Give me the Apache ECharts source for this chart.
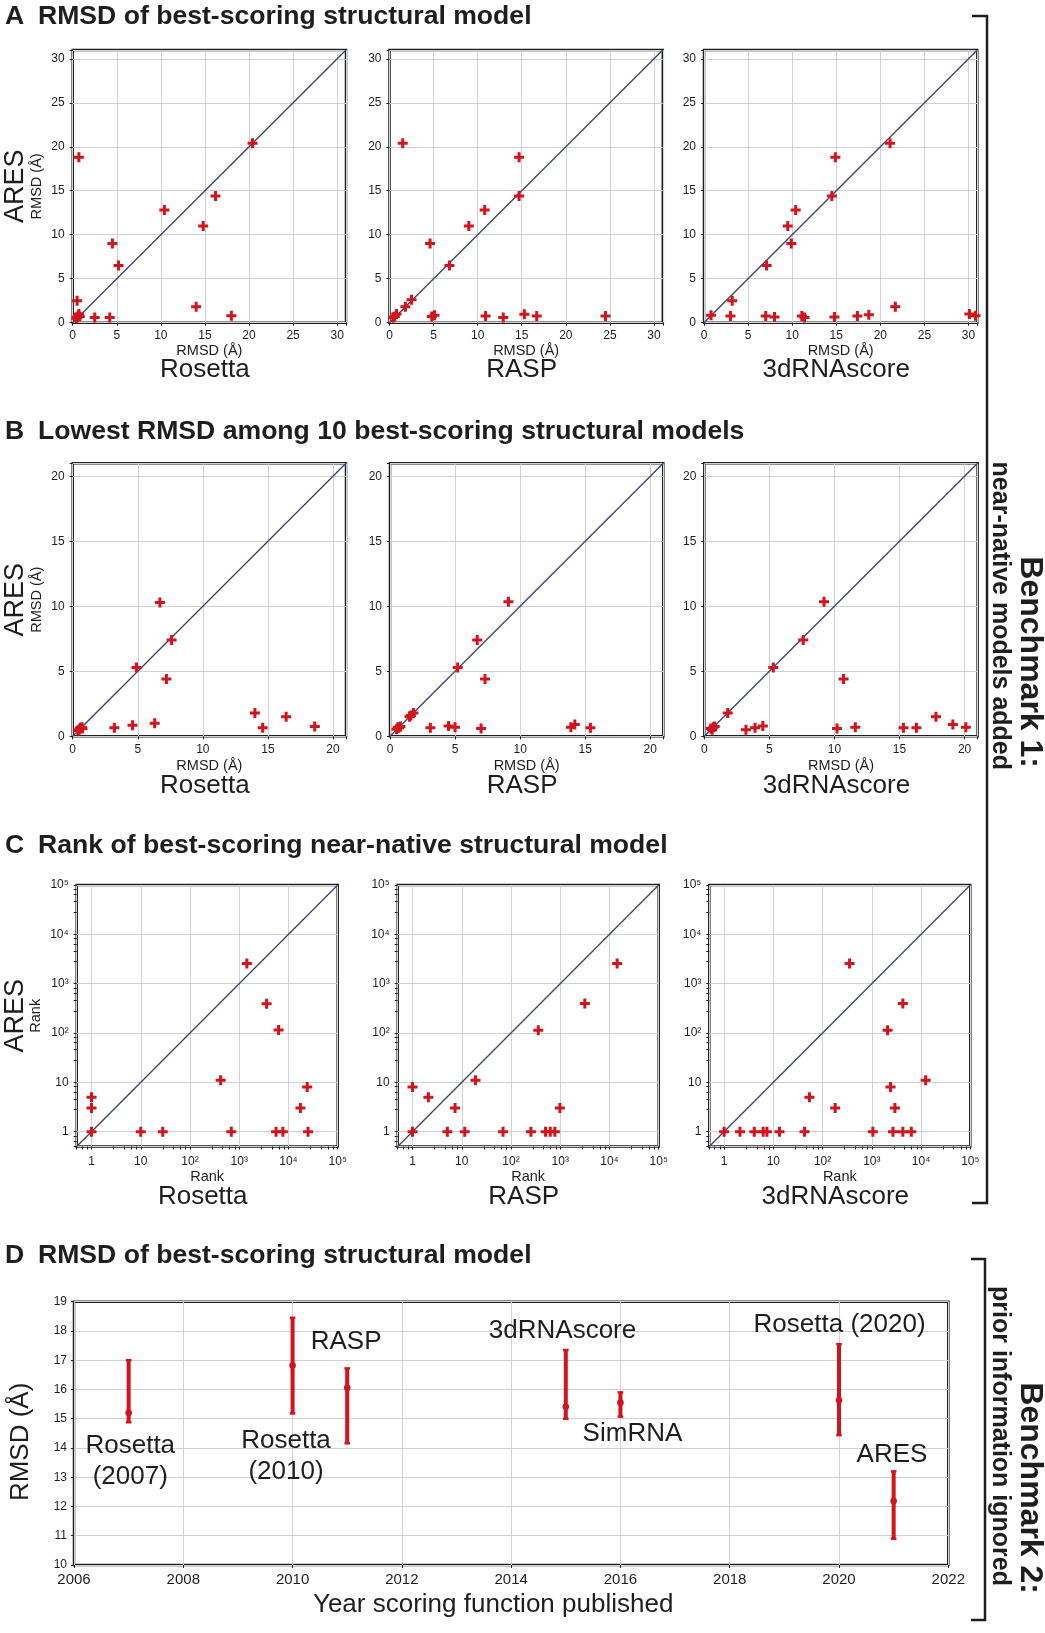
<!DOCTYPE html>
<html><head><meta charset="utf-8">
<script src="https://cdn.jsdelivr.net/npm/echarts@6/dist/echarts.min.js"></script>
<style>html,body{margin:0;padding:0;background:#fff}#c{width:1045px;height:1633px}</style>
</head><body><div id="c"></div>
<script>
// ---------- DATA ----------
const methods = ['Rosetta', 'RASP', '3dRNAscore'];

// Panel A: RMSD of best-scoring structural model (x = other method, y = ARES)
const aRosettaX = [0.7, 20.4, 16.2, 10.4, 14.8, 4.5, 5.2, 0.5, 14.0, 18.0, 2.5, 4.2, 0.4, 0.5, 0.6, 0.7, 0.8];
const aRosettaY = [18.8, 20.4, 14.4, 12.8, 11.0, 9.0, 6.5, 2.5, 1.8, 0.8, 0.6, 0.6, 0.5, 0.6, 0.8, 1.0, 0.7];
const aRaspX = [1.5, 14.7, 14.7, 10.8, 9.0, 4.6, 6.8, 2.5, 1.8, 0.4, 0.6, 0.8, 4.8, 5.1, 10.9, 12.9, 15.3, 16.7, 24.5];
const aRaspY = [20.4, 18.8, 14.4, 12.8, 11.0, 9.0, 6.5, 2.6, 1.8, 0.6, 0.7, 1.0, 0.7, 0.85, 0.75, 0.6, 0.95, 0.75, 0.75];
const a3dX = [0.8, 3.2, 3.0, 7.1, 7.0, 8.0, 9.5, 9.9, 10.4, 11.1, 11.4, 14.5, 14.9, 14.8, 17.4, 18.7, 21.1, 21.7, 30.1, 30.8];
const a3dY = [0.85, 2.5, 0.75, 6.5, 0.75, 0.65, 11.0, 9.0, 12.8, 0.75, 0.6, 14.4, 18.8, 0.65, 0.75, 0.9, 20.4, 1.8, 1.0, 0.8];

// Panel B: lowest RMSD among 10 best-scoring structural models
const bRosettaX = [6.7, 7.6, 4.9, 7.2, 14.0, 16.4, 6.3, 4.6, 3.2, 14.6, 18.6, 0.4, 0.5, 0.55, 0.6, 0.7, 0.75];
const bRosettaY = [10.3, 7.4, 5.3, 4.4, 1.8, 1.5, 1.0, 0.85, 0.65, 0.65, 0.75, 0.45, 0.5, 0.6, 0.65, 0.7, 0.6];
const bRaspX = [9.1, 6.7, 5.2, 7.3, 1.8, 1.5, 1.6, 3.1, 4.5, 5.0, 7.0, 13.9, 14.2, 15.4, 0.5, 0.6, 0.7, 0.8];
const bRaspY = [10.35, 7.4, 5.3, 4.4, 1.8, 1.5, 1.6, 0.65, 0.8, 0.7, 0.6, 0.7, 0.9, 0.65, 0.55, 0.7, 0.65, 0.75];
const b3dX = [9.2, 7.6, 5.3, 10.7, 1.8, 3.2, 3.9, 4.5, 10.2, 11.6, 15.3, 16.3, 17.8, 19.1, 20.1, 0.5, 0.6, 0.7, 0.8];
const b3dY = [10.35, 7.4, 5.3, 4.4, 1.8, 0.5, 0.65, 0.8, 0.6, 0.7, 0.65, 0.65, 1.5, 0.9, 0.7, 0.6, 0.5, 0.7, 0.75];

// Panel C: rank of best-scoring near-native structural model
const cRosettaX = [1, 1, 1, 10, 28, 420, 690, 1430, 3600, 6300, 5600, 7700, 17500, 24000, 25000];
const cRosettaY = [5, 3, 1, 1, 1, 11, 1, 2550, 390, 115, 1, 1, 3, 8, 1];
const cRaspX = [1, 1, 2.1, 7.3, 5.1, 11.5, 19, 69, 254, 358, 504, 627, 779, 985, 3160, 14300];
const cRaspY = [8, 1, 5, 3, 1, 1, 11, 1, 1, 114, 1, 1, 1, 3, 397, 2550];
const c3dX = [1, 2.1, 4.1, 6.2, 7.4, 13.3, 43, 54, 180, 353, 1050, 2090, 2400, 2940, 2690, 4270, 4270, 6330, 12400];
const c3dY = [1, 1, 1, 1, 1, 1, 1, 5, 3, 2550, 1, 114, 8, 3, 1, 397, 1, 1, 11];

// Axis ranges
const rangeA = [0, 31], ticksA = 5;
const rangeB = [0, 21], ticksB = 5;
const rangeC = [0.5, 100000];

// Panel D: RMSD of best-scoring structural model vs year
const dNames = ['Rosetta\n(2007)', 'Rosetta\n(2010)', 'RASP', '3dRNAscore', 'SimRNA', 'Rosetta (2020)', 'ARES'];
const dYears = [2007, 2010, 2011, 2015, 2016, 2020, 2021];
const dMid = [15.2, 16.82, 16.06, 15.41, 15.55, 15.63, 12.19];
const dLow = [14.88, 15.18, 14.16, 15.0, 15.07, 14.44, 10.9];
const dHigh = [17.0, 18.45, 16.72, 17.35, 15.9, 17.55, 13.2];
const dLabelX = [2007.03, 2009.88, 2010.98, 2014.94, 2016.22, 2020.01, 2020.97];
const dLabelY = [13.54, 13.72, 17.63, 18.0, 14.5, 18.22, 13.78];
const dXRange = [2006, 2022], dXStep = 2;
const dYRange = [10, 19], dYStep = 1;

// ---------- STYLE / LAYOUT ----------
const FONT = "'Liberation Sans', Arial, Helvetica, sans-serif";
const RED = '#d2141c';
const NAVY = '#3c3f72';
const INK = '#1e1e1e';
const GRIDC = '#d2d2d6';
const PLUS = 'path://M3.5,0H6.5V3.5H10V6.5H6.5V10H3.5V6.5H0V3.5H3.5Z';
const SUP = {2: '²', 3: '³', 4: '⁴', 5: '⁵'};

const panels = [
  {row: 'A', col: 0, xs: aRosettaX, ys: aRosettaY},
  {row: 'A', col: 1, xs: aRaspX, ys: aRaspY},
  {row: 'A', col: 2, xs: a3dX, ys: a3dY},
  {row: 'B', col: 0, xs: bRosettaX, ys: bRosettaY},
  {row: 'B', col: 1, xs: bRaspX, ys: bRaspY},
  {row: 'B', col: 2, xs: b3dX, ys: b3dY},
  {row: 'C', col: 0, xs: cRosettaX, ys: cRosettaY},
  {row: 'C', col: 1, xs: cRaspX, ys: cRaspY},
  {row: 'C', col: 2, xs: c3dX, ys: c3dY}
];
const layout = {
  A: {top: 50, height: 272.7, lefts: [72.7, 389.5, 704], width: 273.3, xGap: 21, yGap: 28.5, unit: 'RMSD (Å)'},
  B: {top: 463.3, height: 273, lefts: [72.7, 390, 704.3], width: 273.3, xGap: 23, yGap: 28.5, unit: 'RMSD (Å)'},
  C: {top: 885, height: 261.5, lefts: [76.7, 397.7, 709.3], width: 261, xGap: 23, yGap: 33.5, unit: 'Rank'}
};

function powLabel(v) {
  const l = Math.log10(v), e = Math.round(l);
  if (Math.abs(l - e) > 1e-6) return '';
  if (e === 0) return '1';
  if (e === 1) return '10';
  return '10' + (SUP[e] || '');
}
function stepLabel(step) {
  return function (v) { return (Math.abs(v / step - Math.round(v / step)) < 1e-6) ? String(v) : ''; };
}

const grids = [], xAxes = [], yAxes = [], series = [];
panels.forEach((p, i) => {
  const L = layout[p.row];
  grids.push({left: L.lefts[p.col], top: L.top, width: L.width, height: L.height,
    show: true, borderColor: INK, borderWidth: 2.5, backgroundColor: 'transparent', containLabel: false});
  const isLog = p.row === 'C';
  const rng = p.row === 'A' ? rangeA : p.row === 'B' ? rangeB : rangeC;
  const step = p.row === 'A' ? ticksA : ticksB;
  function makeAxis(isX) {
    const ax = {
      gridIndex: i, min: rng[0], max: rng[1],
      axisLine: {show: false},
      axisTick: {show: true, length: 3, lineStyle: {color: INK, width: 1}},
      splitLine: {show: true, lineStyle: {color: GRIDC, width: 1}},
      axisLabel: {fontFamily: FONT, fontSize: 12, color: INK, margin: isX ? (isLog ? 9 : 7) : 8,
        formatter: isLog ? powLabel : stepLabel(step), showMinLabel: true, showMaxLabel: true}
    };
    if (isLog) {
      Object.assign(ax, {type: 'log', logBase: 10,
        minorTick: {show: true, splitNumber: 5, length: 3, lineStyle: {color: INK}}});
    } else {
      Object.assign(ax, {type: 'value', interval: step});
    }
    return ax;
  }
  const xa = makeAxis(true);
  const ya = makeAxis(false);
  xa.name = '{n|' + L.unit + '}\n{c|' + methods[p.col] + '}';
  xa.nameLocation = 'middle';
  xa.nameGap = L.xGap;
  xa.nameTextStyle = {fontFamily: FONT, color: INK, rich: {
    n: {fontFamily: FONT, fontSize: 14.5, lineHeight: 14, color: INK},
    c: {fontFamily: FONT, fontSize: 26, lineHeight: p.row === 'C' ? 26 : 25, color: INK, padding: [0, 9, 0, 0]}}};
  if (p.col === 0) {
    ya.name = '{c|ARES}\n{n|' + L.unit + '}';
    ya.nameLocation = 'middle';
    ya.nameGap = L.yGap;
    ya.nameTextStyle = {fontFamily: FONT, color: INK, rich: {
      n: {fontFamily: FONT, fontSize: 14.5, lineHeight: 14, color: INK},
      c: {fontFamily: FONT, fontSize: 27, lineHeight: p.row === 'C' ? 27 : 30, color: INK}}};
  }
  xAxes.push(xa); yAxes.push(ya);
  series.push({type: 'line', xAxisIndex: i, yAxisIndex: i, data: [[rng[0], rng[0]], [rng[1], rng[1]]],
    symbol: 'none', silent: true, lineStyle: {color: NAVY, width: 1.3}, z: 2});
  series.push({type: 'scatter', xAxisIndex: i, yAxisIndex: i, data: p.xs.map((x, k) => [x, p.ys[k]]),
    symbol: PLUS, symbolSize: 10, itemStyle: {color: RED, opacity: 1}, z: 3, silent: true});
});

// Panel D
const di = panels.length;
grids.push({left: 70, top: 1301.7, width: 878.3, height: 263.3, show: true, borderColor: INK, borderWidth: 2.5, containLabel: false});
xAxes.push({gridIndex: di, type: 'value', min: dXRange[0], max: dXRange[1], interval: dXStep,
  axisLine: {show: false}, axisTick: {show: true, length: 3, lineStyle: {color: INK}},
  splitLine: {show: true, lineStyle: {color: GRIDC}},
  axisLabel: {fontFamily: FONT, fontSize: 15, color: INK, margin: 7, formatter: v => String(v)},
  name: 'Year scoring function published', nameLocation: 'middle', nameGap: 27,
  nameTextStyle: {fontFamily: FONT, fontSize: 26, color: INK, padding: [0, 36, 0, 0]}});
yAxes.push({gridIndex: di, type: 'value', min: dYRange[0], max: dYRange[1], interval: dYStep,
  axisLine: {show: false}, axisTick: {show: true, length: 3, lineStyle: {color: INK}},
  splitLine: {show: true, lineStyle: {color: GRIDC}},
  axisLabel: {fontFamily: FONT, fontSize: 12, color: INK, margin: 7, formatter: v => String(v)},
  name: 'RMSD (Å)', nameLocation: 'middle', nameGap: 40,
  nameTextStyle: {fontFamily: FONT, fontSize: 26, lineHeight: 26, color: INK, padding: [0, 17, 0, 0]}});
series.push({type: 'custom', xAxisIndex: di, yAxisIndex: di,
  data: dYears.map((y, i) => [y, dLow[i], dHigh[i], dMid[i]]),
  encode: {x: 0, y: [1, 2, 3]}, silent: true, z: 3,
  renderItem: function (params, api) {
    const x = api.value(0);
    const lo = api.coord([x, api.value(1)]);
    const hi = api.coord([x, api.value(2)]);
    const mid = api.coord([x, api.value(3)]);
    const cw = 2.8;
    return {type: 'group', children: [
      {type: 'line', shape: {x1: lo[0], y1: lo[1], x2: hi[0], y2: hi[1]}, style: {stroke: RED, lineWidth: 4}},
      {type: 'line', shape: {x1: lo[0] - cw, y1: lo[1], x2: lo[0] + cw, y2: lo[1]}, style: {stroke: RED, lineWidth: 2.5}},
      {type: 'line', shape: {x1: hi[0] - cw, y1: hi[1], x2: hi[0] + cw, y2: hi[1]}, style: {stroke: RED, lineWidth: 2.5}},
      {type: 'circle', shape: {cx: mid[0], cy: mid[1], r: 3.3}, style: {fill: RED}}
    ]};
  }});
series.push({type: 'scatter', xAxisIndex: di, yAxisIndex: di, symbolSize: 0, silent: true, z: 4,
  itemStyle: {opacity: 1, color: INK},
  data: dNames.map((n, i) => ({name: n, value: [dLabelX[i], dLabelY[i]]})),
  label: {show: true, position: 'inside', formatter: p => p.name, fontFamily: FONT, fontSize: 26,
    lineHeight: 31, color: INK, opacity: 1, textBorderWidth: 0}});

// Titles and brackets
function title(letter, text, y) {
  return [
    {type: 'text', x: 5, y: y, style: {text: letter, font: 'bold 26.6px ' + FONT, fill: INK, textVerticalAlign: 'middle', verticalAlign: 'middle'}},
    {type: 'text', x: 38, y: y, style: {text: text, font: 'bold 26.6px ' + FONT, fill: INK, textVerticalAlign: 'middle', verticalAlign: 'middle'}}
  ];
}
function vtext(text, x, yEnd, size) {
  return {type: 'text', x: x, y: yEnd, rotation: -Math.PI / 2,
    style: {text: text, font: 'bold ' + size + 'px ' + FONT, fill: INK,
      textAlign: 'right', align: 'right', textVerticalAlign: 'middle', verticalAlign: 'middle'}};
}
const graphic = [].concat(
  title('A', 'RMSD of best-scoring structural model', 17),
  title('B', 'Lowest RMSD among 10 best-scoring structural models', 432),
  title('C', 'Rank of best-scoring near-native structural model', 846),
  title('D', 'RMSD of best-scoring structural model', 1256),
  [
    {type: 'polyline', shape: {points: [[972, 16], [987, 16], [987, 1203], [972, 1203]]}, style: {stroke: INK, lineWidth: 2.5, fill: null}},
    {type: 'polyline', shape: {points: [[971, 1259], [985, 1259], [985, 1620], [971, 1620]]}, style: {stroke: INK, lineWidth: 2.5, fill: null}},
    vtext('Benchmark 1:', 1030, 768, 32),
    vtext('near-native models added', 1000, 770, 25),
    vtext('Benchmark 2:', 1030, 1594, 32),
    vtext('prior information ignored', 1000, 1586, 25)
  ]
);

const chart = echarts.init(document.getElementById('c'), null, {renderer: 'canvas'});
chart.setOption({
  animation: false,
  backgroundColor: '#ffffff',
  textStyle: {fontFamily: FONT},
  grid: grids, xAxis: xAxes, yAxis: yAxes, series: series, graphic: graphic
});
</script></body></html>
